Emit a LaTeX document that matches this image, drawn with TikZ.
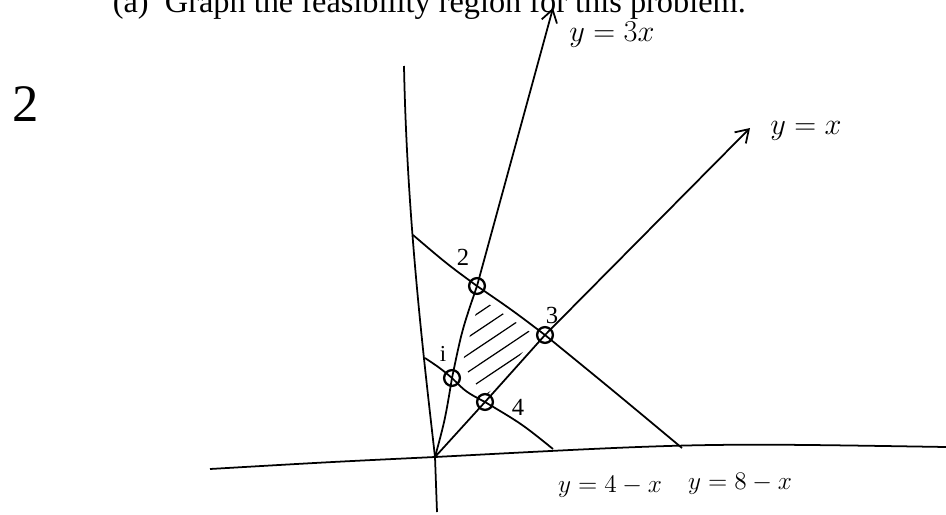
\documentclass[tikz,border=0pt]{standalone}
\usepackage{fontspec}
\setmainfont{Liberation Serif}
\usetikzlibrary{arrows.meta}

\begin{document}
\begin{tikzpicture}[x={(0.02cm,0)},y={(0,-0.02cm)},line width=1pt,
  lbl/.style={font=\fontsize{16}{19}\selectfont,inner sep=0pt},
  tip/.style={-{Straight Barb[length=7pt,width=9pt]}}]
\useasboundingbox (0,0) rectangle (946,514);
% corners of the region and ends of the lines
\coordinate (O) at (435,457);
\coordinate (p1) at (452,378);
\coordinate (p2) at (477,286);
\coordinate (p3) at (545,335);
\coordinate (p4) at (485,402);
\coordinate (xl) at (210,469); \coordinate (xr) at (946,447);
\coordinate (yb) at (437,512); \coordinate (yt) at (404,66);
\coordinate (t3x) at (553,8); \coordinate (tx) at (750,128);
\coordinate (a8) at (413,235); \coordinate (b8) at (682,448);
\coordinate (a4) at (425,358); \coordinate (b4) at (553,449);
% axes
\draw (xl) .. controls (330,462) .. (O) .. controls (700,443) .. (xr);
\draw (yb) -- (O) .. controls (424,360) and (407,220) .. (yt);
% y=8-x and y=4-x
\draw (a8) .. controls (447,264) .. (p2) .. controls (512,310) .. (p3) .. controls (610,388) .. (b8);
\draw (a4) .. controls (440,368) .. (p1) .. controls (466,392) .. (p4) .. controls (522,424) .. (b4);
% y=3x and y=x
\draw[tip] (O) .. controls (445,420) .. (p1) .. controls (462,330) .. (p2) -- (t3x);
\draw[tip] (O) -- (p4) -- (p3) -- (tx);
% hatching
\begin{scope}
\clip (459,376) -- (480,298) -- (536,336) -- (488,394) -- cycle;
\foreach \k in {0,...,9} {\draw[line width=0.7pt] (420+\k*8,300+\k*12) -- +(160,-107);}
\end{scope}
\foreach \p in {p1,p2,p3,p4} {\draw[line width=1.3pt] (\p) circle (4.5pt);}
\node[font=\fontsize{13}{15}\selectfont] (n1) at (443,354) {i};
\node[font=\fontsize{14}{16}\selectfont] (n2) at (463,257) {2};
\node[font=\fontsize{14}{16}\selectfont] (n3) at (552,315) {3};
\node[font=\fontsize{14}{16}\selectfont] (n4) at (518,407) {4};
\node[lbl,font=\fontsize{17.5}{20}\selectfont] (l3x) at (612,35) {$y=3x$};
\node[lbl] (lx) at (806,131) {$y=x$};
\node[lbl,font=\fontsize{14.5}{17}\selectfont] (l4) at (610,487) {$y=4-x$};
\node[lbl,font=\fontsize{14.5}{17}\selectfont] (l8) at (740,484) {$y=8-x$};
\node[font=\fontsize{30}{32}\selectfont,inner sep=0pt] (num) at (26,104) {2};
\node[font=\fontsize{18.4}{22}\selectfont,anchor=base west,inner sep=0pt] (head) at (112,12) {(a)\ \ Graph the feasibility region for this problem.};
\end{tikzpicture}
\end{document}
